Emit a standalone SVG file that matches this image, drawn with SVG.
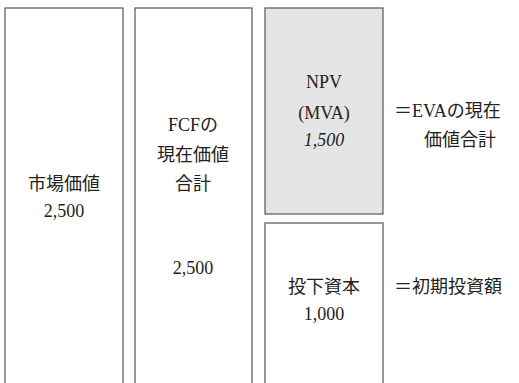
<svg xmlns="http://www.w3.org/2000/svg" width="519" height="383" viewBox="0 0 519 383">
<style>
.box{fill:#ffffff;stroke:#555555;stroke-width:1.2}
.gray{fill:#e5e5e5;stroke:#555555;stroke-width:1.2}
text{font-family:"Liberation Serif","Noto Sans CJK JP",serif;font-size:18px;fill:#222222}
.c{text-anchor:middle}
.i{font-style:italic}
</style>
<rect width="519" height="383" fill="#ffffff"/>
<g id="market-value">
<rect class="box" x="5" y="8" width="118" height="400"/>
<text class="c" x="64" y="190">市場価値</text>
<text class="c" x="64" y="217">2,500</text>
</g>
<g id="fcf-pv">
<rect class="box" x="135" y="8" width="117" height="400"/>
<text class="c" x="193" y="131">FCFの</text>
<text class="c" x="193" y="161">現在価値</text>
<text class="c" x="193" y="190">合計</text>
<text class="c" x="193" y="274">2,500</text>
</g>
<g id="npv">
<rect class="gray" x="265" y="8" width="118" height="206"/>
<text class="c" x="324" y="88">NPV</text>
<text class="c" x="324" y="119">(MVA)</text>
<text class="c i" x="324" y="146">1,500</text>
</g>
<g id="invested-capital">
<rect class="box" x="265" y="223" width="118" height="200"/>
<text class="c" x="324" y="293">投下資本</text>
<text class="c" x="324" y="320">1,000</text>
</g>
<g id="labels">
<text x="394" y="117">＝EVAの現在</text>
<text x="424" y="146">価値合計</text>
<text x="394" y="293">＝初期投資額</text>
</g>
</svg>
